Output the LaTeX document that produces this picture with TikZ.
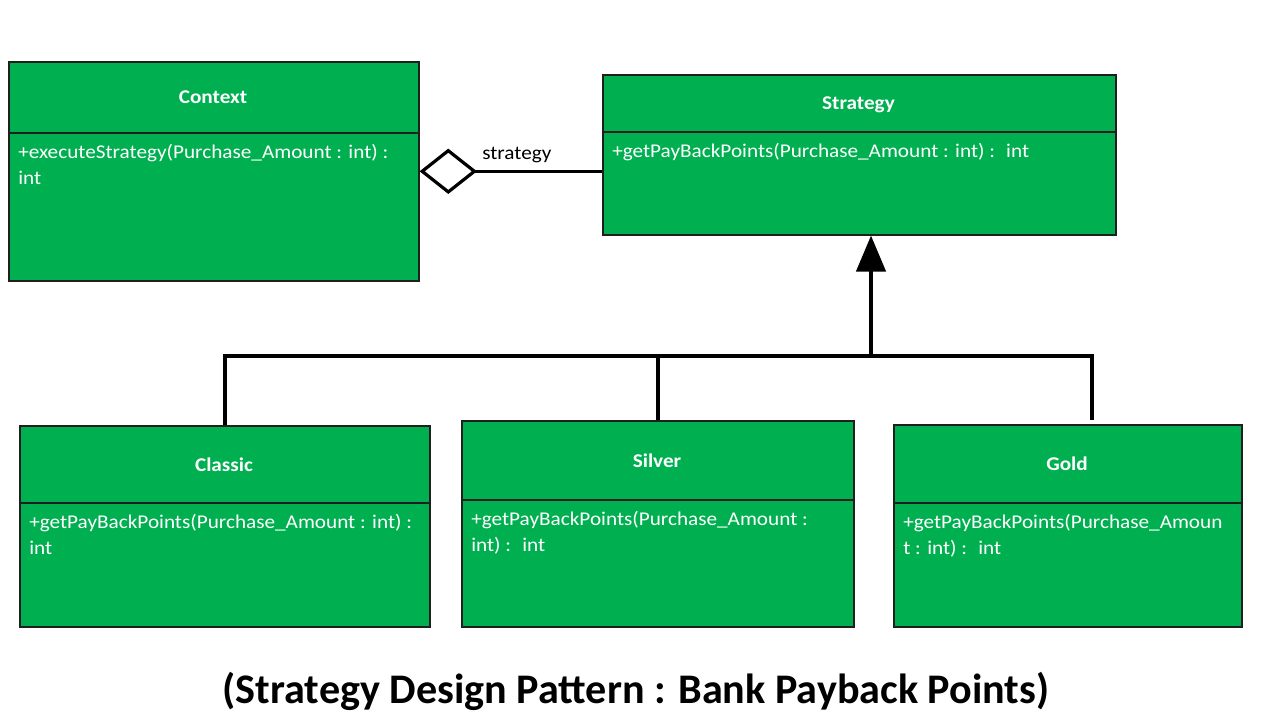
\documentclass[tikz,border=0pt]{standalone}
\usepackage{fontspec}
\setmainfont{Carlito}[FakeStretch=1.09]
\newfontfamily\capfont{Carlito}
\usetikzlibrary{arrows.meta,calc}
\definecolor{umlgreen}{HTML}{00B050}
\definecolor{umlborder}{HTML}{1F1F1F}
\tikzset{
  classbox/.style={draw=umlborder, fill=umlgreen, line width=1.2pt, inner sep=0pt, anchor=north west},
  divline/.style={draw=umlborder, line width=1.2pt},
  classname/.style={text=white, font=\bfseries\fontsize{14.6}{19.5}\selectfont, anchor=base, inner sep=0pt},
  classbody/.style={text=white, font=\fontsize{14.6}{19.5}\selectfont, anchor=base west, align=left, inner sep=0pt},
  link/.style={draw=black, line width=2.6pt},
  aggr/.style={link, -{Diamond[open, fill=white, length=43pt, width=34pt, line width=2.4pt]}},
  gener/.style={link, -{Triangle[length=27pt, width=22pt]}},
  linklabel/.style={text=black, font=\fontsize{14.6}{19.5}\selectfont, anchor=base west, inner sep=0pt},
  captext/.style={text=black, font=\capfont\bfseries\fontsize{31.6}{38}\selectfont, anchor=base, inner sep=0pt}
}
% #1 name, #2 x1, #3 y1, #4 x2, #5 y2, #6 divider y, #7 title, #8 body, #9 baseline offset of the last body line
\newcommand{\umlclass}[9]{%
  \node[classbox, minimum width={(#4-#2)*0.75pt}, minimum height={(#5-#3)*0.75pt}] (#1) at (#2,#3) {};
  \draw[divline] (#2,#6) -- (#4,#6);
  \node[classname] (#1-name) at ({(#2+#4)/2},{(#3+#6)/2+7}) {#7};
  \node[classbody] (#1-body) at ({#2+10},{#6+#9}) {#8};
}
\begin{document}
\begin{tikzpicture}[x=0.75pt, y=-0.75pt]
\useasboundingbox (0,0) rectangle (1280,720);
\fill[white] (0,0) rectangle (1280,720);

\umlclass{ctx}{8}{61}{418}{280}{133}{Context}{+executeStrategy(Purchase\_Amount : int) :\\int}{52}
\umlclass{strat}{602}{74}{1115}{234}{132}{Strategy}{+getPayBackPoints(Purchase\_Amount : int) :~ int}{26}
\umlclass{classic}{19}{425}{429}{626}{503}{Classic}{+getPayBackPoints(Purchase\_Amount : int) :\\int}{51}
\umlclass{silver}{461}{420}{853}{626}{500}{Silver}{+getPayBackPoints(Purchase\_Amount :\\int) :~ int}{51}
\umlclass{gold}{893}{424}{1241}{626}{503}{Gold}{+getPayBackPoints(Purchase\_Amoun\\t : int) :~ int}{51}

% aggregation
\draw[aggr] (strat.west |- ctx.east) -- (ctx.east);
\node[linklabel] (agglabel) at (482,160) {strategy};

% generalization
\coordinate (bus) at (871,356);
\coordinate (goldtop) at (1092,420);
\draw[link] (classic.north) -- (classic.north |- bus) -- (goldtop |- bus) -- (goldtop);
\draw[link] (silver.north) -- (silver.north |- bus);
\draw[gener] (bus) -- (bus |- strat.south);

% caption
\node[captext] (caption) at (636,703) {(Strategy Design Pattern : Bank Payback Points)};
\end{tikzpicture}
\end{document}
